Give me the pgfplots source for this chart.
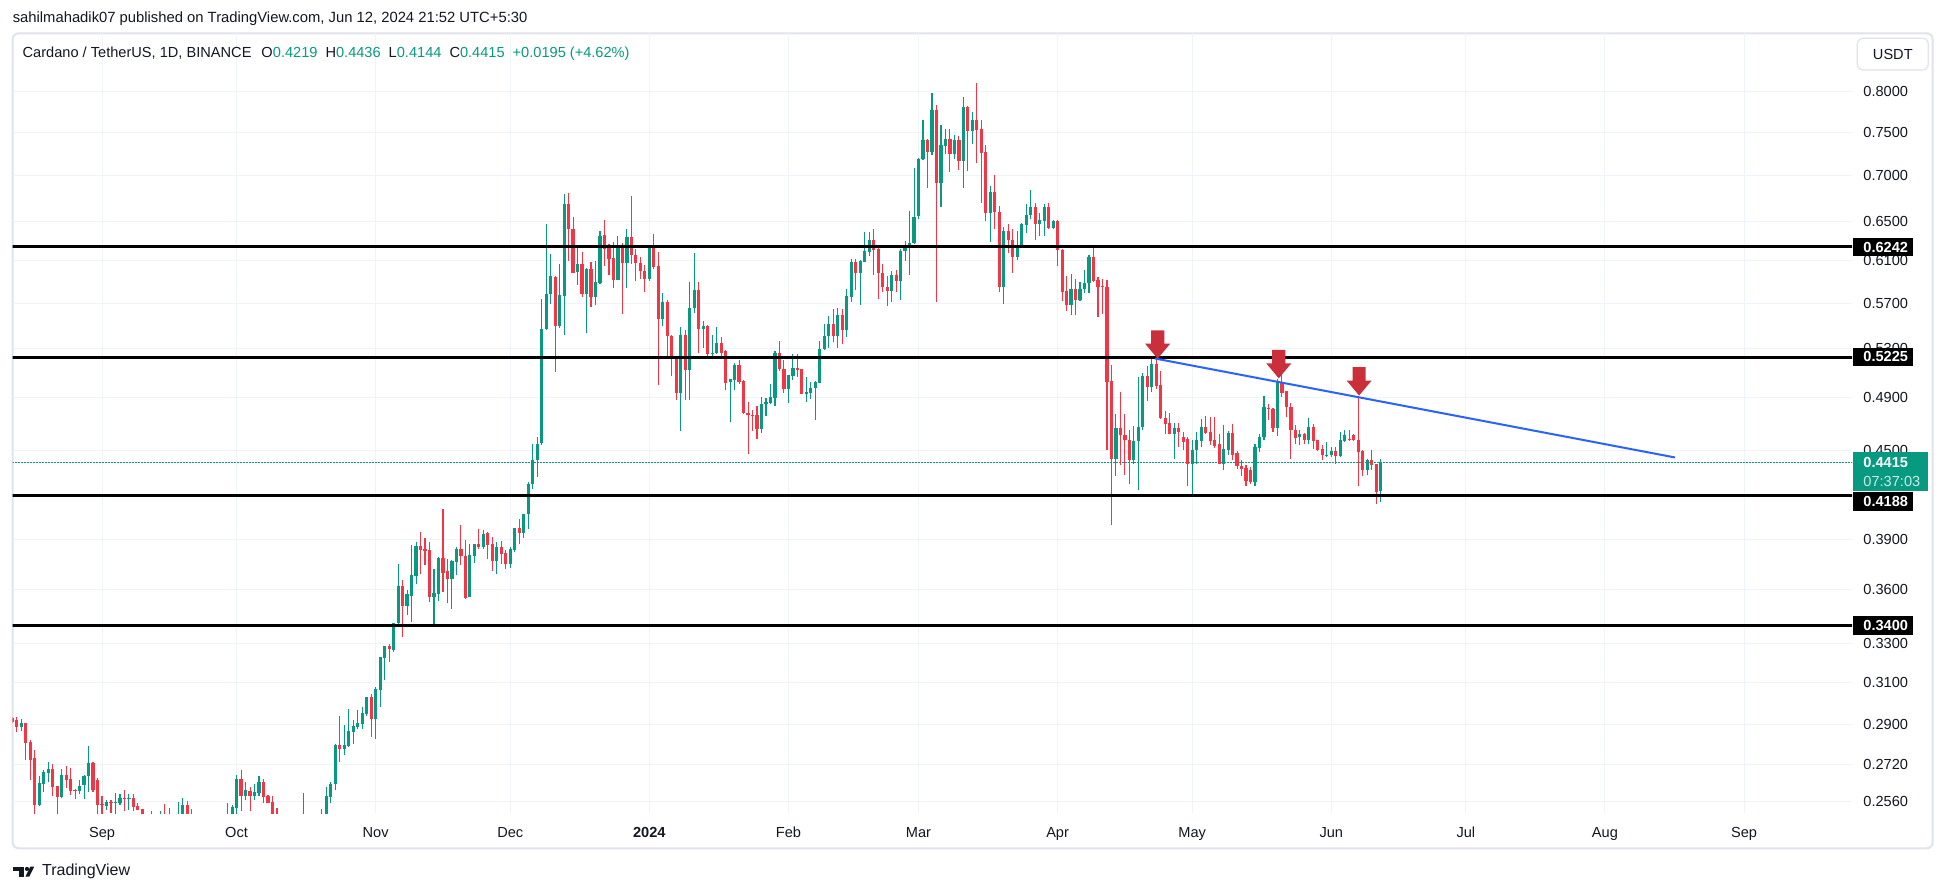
\documentclass[border=0pt]{standalone}
\usepackage{fontspec}
\setmainfont{Liberation Sans}
\usepackage{pgfplots}
\pgfplotsset{compat=1.18}
\usepackage{pgfplotstable}

\definecolor{upc}{HTML}{089981}
\definecolor{dnc}{HTML}{F23645}
\definecolor{txt}{HTML}{131722}
\definecolor{gridc}{HTML}{F0F3FA}
\definecolor{framec}{HTML}{E0E3EB}
\definecolor{trend}{HTML}{2962FF}
\definecolor{arrowc}{RGB}{201,48,60}

% ADA/USDT daily candles, d = days from 2024-01-01
\pgfplotstableread{
d o h l c
-142 .2931 .2935 .2908 .2910
-141 .2918 .2933 .2864 .2887
-140 .2887 .2923 .2869 .2904
-139 .2904 .2907 .2737 .2814
-138 .2817 .2826 .2650 .2737
-137 .2746 .2781 .2490 .2547
-136 .2547 .2671 .2543 .2637
-135 .2636 .2693 .2601 .2684
-134 .2681 .2729 .2643 .2699
-133 .2699 .2719 .2583 .2622
-132 .2625 .2628 .2510 .2580
-131 .2580 .2697 .2578 .2675
-130 .2675 .2711 .2617 .2650
-129 .2654 .2705 .2588 .2605
-128 .2611 .2614 .2572 .2605
-127 .2605 .2650 .2592 .2628
-126 .2629 .2675 .2571 .2671
-125 .2667 .2799 .2601 .2725
-124 .2724 .2728 .2601 .2608
-123 .2650 .2662 .2505 .2547
-122 .2551 .2583 .2505 .2547
-121 .2543 .2569 .2526 .2559
-120 .2560 .2567 .2515 .2554
-119 .2557 .2596 .2510 .2559
-118 .2557 .2592 .2547 .2576
-117 .2576 .2608 .2523 .2574
-116 .2574 .2592 .2526 .2576
-115 .2576 .2591 .2523 .2540
-114 .2543 .2555 .2526 .2529
-113 .2530 .2530 .2470 .2490
-112 .2490 .2505 .2460 .2475
-111 .2475 .2522 .2450 .2490
-110 .2490 .2510 .2460 .2485
-109 .2485 .2522 .2470 .2495
-108 .2505 .2551 .2460 .2480
-107 .2490 .2536 .2450 .2470
-106 .2470 .2495 .2445 .2475
-105 .2470 .2558 .2450 .2495
-104 .2490 .2576 .2470 .2547
-103 .2547 .2564 .2460 .2480
-102 .2490 .2533 .2440 .2470
-101 .2470 .2500 .2430 .2450
-100 .2450 .2490 .2420 .2460
-99 .2460 .2500 .2430 .2470
-98 .2470 .2505 .2440 .2480
-97 .2480 .2508 .2450 .2465
-96 .2465 .2500 .2440 .2470
-95 .2470 .2505 .2445 .2480
-94 .2480 .2554 .2460 .2500
-93 .2500 .2547 .2480 .2538
-92 .2535 .2675 .2505 .2654
-91 .2654 .2693 .2523 .2583
-90 .2583 .2642 .2567 .2608
-89 .2605 .2622 .2523 .2583
-88 .2583 .2636 .2567 .2600
-87 .2597 .2667 .2583 .2642
-86 .2642 .2655 .2554 .2580
-85 .2583 .2587 .2554 .2556
-84 .2559 .2583 .2480 .2500
-83 .2500 .2534 .2450 .2470
-82 .2470 .2500 .2440 .2460
-81 .2460 .2490 .2430 .2450
-80 .2450 .2480 .2420 .2440
-79 .2440 .2480 .2415 .2455
-78 .2455 .2490 .2430 .2460
-77 .2460 .2595 .2440 .2480
-76 .2480 .2512 .2450 .2470
-75 .2470 .2500 .2440 .2460
-74 .2460 .2495 .2440 .2480
-73 .2480 .2530 .2460 .2500
-72 .2500 .2622 .2480 .2583
-71 .2580 .2642 .2554 .2633
-70 .2636 .2808 .2608 .2804
-69 .2804 .2937 .2729 .2787
-68 .2787 .2895 .2759 .2804
-67 .2799 .2973 .2796 .2867
-66 .2864 .2921 .2811 .2890
-65 .2887 .2968 .2879 .2906
-64 .2899 .2981 .2879 .2952
-63 .2949 .3030 .2940 .3028
-62 .3028 .3046 .2841 .2926
-61 .2923 .3078 .2833 .3067
-60 .3062 .3230 .2981 .3229
-59 .3224 .3290 .3112 .3287
-58 .3287 .3299 .3204 .3271
-57 .3269 .3414 .3256 .3414
-56 .3411 .3753 .3408 .3619
-55 .3619 .3654 .3336 .3504
-54 .3504 .3595 .3454 .3572
-53 .3562 .3865 .3417 .3683
-52 .3677 .3884 .3630 .3859
-51 .3859 .3946 .3689 .3834
-50 .3840 .3908 .3743 .3828
-49 .3834 .3884 .3528 .3560
-48 .3560 .3719 .3398 .3578
-47 .3572 .3793 .3534 .3787
-46 .3787 .4094 .3585 .3697
-45 .3708 .3779 .3522 .3661
-44 .3661 .3773 .3491 .3769
-43 .3765 .3855 .3683 .3840
-42 .3840 .3991 .3743 .3797
-41 .3797 .3896 .3548 .3553
-40 .3557 .3871 .3557 .3803
-39 .3799 .3871 .3757 .3871
-38 .3871 .3970 .3844 .3855
-37 .3855 .3959 .3844 .3938
-36 .3942 .3948 .3779 .3865
-35 .3871 .3915 .3709 .3769
-34 .3769 .3886 .3689 .3855
-33 .3855 .3890 .3753 .3809
-32 .3817 .3834 .3719 .3749
-31 .3749 .3855 .3729 .3840
-30 .3834 .3974 .3824 .3974
-29 .3974 .4029 .3875 .3942
-28 .3942 .4066 .3911 .4062
-27 .4062 .4275 .3966 .4266
-26 .4266 .4547 .4232 .4429
-25 .4429 .4595 .4312 .4547
-24 .4552 .5737 .4537 .5466
-23 .5466 .6476 .5460 .5788
-22 .5788 .6165 .5696 .5951
-21 .5945 .5951 .5101 .5495
-20 .5495 .6074 .5480 .5779
-19 .5770 .6790 .5413 .6681
-18 .6681 .6804 .6099 .6417
-17 .6420 .6546 .5980 .5987
-16 .5993 .6255 .5866 .6074
-15 .6074 .6188 .5757 .5788
-14 .5788 .6036 .5430 .6019
-13 .6019 .6090 .5666 .5757
-12 .5757 .6099 .5681 .5894
-11 .5888 .6397 .5882 .6346
-10 .6356 .6511 .6048 .6214
-9 .6225 .6265 .5961 .6116
-8 .6128 .6288 .5843 .5913
-7 .5913 .6346 .5913 .6250
-6 .6240 .6278 .5599 .6080
-5 .6080 .6424 .5843 .6339
-4 .6339 .6767 .6067 .6155
-3 .6155 .6218 .5906 .6080
-2 .6080 .6134 .5929 .6003
-1 .6003 .6057 .5803 .5929
0 .5929 .6246 .5906 .6240
1 .6246 .6366 .6019 .6042
2 .6048 .6188 .4996 .5554
3 .5554 .5796 .5495 .5711
4 .5711 .5731 .5230 .5407
5 .5407 .5416 .5068 .5223
6 .5223 .5229 .4877 .4935
7 .4935 .5486 .4643 .5416
8 .5416 .5460 .4877 .5118
9 .5118 .5897 .4877 .5660
10 .5657 .6178 .5611 .5819
11 .5819 .5897 .5259 .5468
12 .5468 .5536 .5302 .5492
13 .5492 .5501 .5230 .5251
14 .5251 .5413 .5220 .5265
15 .5259 .5486 .5250 .5349
16 .5349 .5398 .5215 .5259
17 .5277 .5285 .4956 .5014
18 .5022 .5050 .4710 .5047
19 .5036 .5178 .4962 .5159
20 .5159 .5200 .5010 .5022
21 .5028 .5036 .4774 .4779
22 .4782 .4864 .4477 .4761
23 .4766 .4799 .4643 .4755
24 .4761 .4836 .4586 .4660
25 .4660 .4903 .4631 .4846
26 .4846 .4898 .4755 .4864
27 .4860 .5004 .4846 .4903
28 .4898 .5279 .4832 .5264
29 .5264 .5362 .5113 .5128
30 .5131 .5200 .4935 .4969
31 .4969 .5083 .4856 .5077
32 .5071 .5251 .5036 .5139
33 .5139 .5253 .5064 .5118
34 .5126 .5131 .4925 .4930
35 .4925 .5063 .4867 .4943
36 .4937 .5022 .4891 .4977
37 .4977 .5028 .4728 .5022
38 .5014 .5362 .5014 .5300
39 .5300 .5509 .5285 .5405
40 .5405 .5581 .5305 .5509
41 .5509 .5650 .5359 .5405
42 .5407 .5656 .5305 .5590
43 .5590 .5650 .5335 .5461
44 .5461 .5834 .5398 .5762
45 .5757 .6123 .5711 .6090
46 .6090 .6116 .5819 .5984
47 .5984 .6106 .5681 .6099
48 .6090 .6390 .6090 .6198
49 .6188 .6390 .6146 .6305
50 .6305 .6417 .5961 .6212
51 .6214 .6240 .5741 .5984
52 .5987 .6074 .5803 .5849
53 .5852 .5951 .5676 .5813
54 .5813 .6003 .5711 .5967
55 .5967 .6016 .5803 .5906
56 .5906 .6222 .5726 .6195
57 .6195 .6295 .6096 .6240
58 .6230 .6609 .5961 .6282
59 .6278 .7083 .6272 .6546
60 .6557 .7199 .6526 .7188
61 .7180 .7645 .7169 .7410
62 .7410 .7415 .6857 .7266
63 .7266 .7987 .7236 .7772
64 .7772 .7831 .5710 .6913
65 .6913 .7584 .6651 .7344
66 .7340 .7543 .7248 .7415
67 .7415 .7543 .7036 .7238
68 .7238 .7464 .7185 .7410
69 .7410 .7455 .7055 .7161
70 .7161 .7937 .6857 .7816
71 .7816 .7826 .7047 .7515
72 .7515 .7753 .7362 .7651
73 .7645 .8116 .7138 .7531
74 .7539 .7651 .6694 .7256
75 .7266 .7344 .6503 .6585
76 .6585 .6875 .6288 .6810
77 .6810 .7000 .6425 .6599
78 .6599 .6659 .5803 .5854
79 .5854 .6438 .5696 .6397
80 .6397 .6476 .6178 .6312
81 .6312 .6424 .5987 .6140
82 .6140 .6397 .6106 .6240
83 .6230 .6483 .6230 .6469
84 .6459 .6681 .6380 .6563
85 .6565 .6832 .6526 .6651
86 .6651 .6694 .6305 .6469
87 .6469 .6585 .6349 .6511
88 .6500 .6688 .6346 .6651
89 .6651 .6694 .6425 .6435
90 .6431 .6518 .6425 .6500
91 .6500 .6518 .6051 .6205
92 .6212 .6222 .5720 .5803
93 .5813 .5954 .5629 .5681
94 .5681 .5970 .5590 .5828
95 .5828 .5926 .5590 .5726
96 .5726 .5897 .5720 .5834
97 .5828 .6009 .5794 .5891
98 .5888 .6162 .5794 .6134
99 .6134 .6246 .5900 .5906
100 .5913 .5945 .5575 .5849
101 .5852 .5926 .5606 .5850
102 .5852 .5920 .4501 .5022
103 .5028 .5159 .3991 .4441
104 .4439 .4774 .4317 .4667
105 .4667 .4943 .4394 .4611
106 .4611 .4774 .4324 .4574
107 .4579 .4648 .4267 .4434
108 .4434 .4679 .4405 .4569
109 .4569 .5063 .4221 .4676
110 .4672 .5093 .4648 .5071
111 .5071 .5150 .4872 .4982
112 .4982 .5230 .4943 .5167
113 .5167 .5215 .4969 .4990
114 .4996 .5112 .4735 .4740
115 .4743 .4794 .4624 .4692
116 .4700 .4779 .4619 .4624
117 .4619 .4700 .4437 .4667
118 .4667 .4700 .4524 .4634
119 .4600 .4634 .4501 .4563
120 .4587 .4600 .4248 .4406
121 .4406 .4574 .4183 .4501
122 .4501 .4634 .4406 .4574
123 .4570 .4735 .4524 .4672
124 .4672 .4758 .4624 .4628
125 .4634 .4745 .4541 .4569
126 .4574 .4752 .4520 .4531
127 .4550 .4619 .4400 .4406
128 .4406 .4686 .4359 .4511
129 .4506 .4641 .4468 .4631
130 .4631 .4692 .4429 .4468
131 .4482 .4496 .4371 .4387
132 .4387 .4434 .4317 .4366
133 .4374 .4394 .4248 .4282
134 .4363 .4379 .4264 .4278
135 .4278 .4547 .4251 .4524
136 .4517 .4619 .4487 .4595
137 .4595 .4908 .4574 .4825
138 .4820 .4851 .4723 .4812
139 .4812 .4820 .4634 .4663
140 .4663 .5050 .4605 .5030
141 .5022 .5091 .4903 .4935
142 .4948 .4951 .4746 .4825
143 .4827 .4856 .4441 .4648
144 .4652 .4686 .4550 .4593
145 .4595 .4648 .4537 .4619
146 .4619 .4625 .4550 .4580
147 .4574 .4743 .4550 .4676
148 .4676 .4692 .4513 .4571
149 .4574 .4580 .4494 .4501
150 .4508 .4537 .4429 .4465
151 .4460 .4562 .4451 .4465
152 .4465 .4524 .4451 .4494
153 .4496 .4524 .4406 .4460
154 .4460 .4634 .4455 .4574
155 .4569 .4652 .4565 .4611
156 .4577 .4652 .4569 .4574
157 .4611 .4619 .4570 .4574
158 .4577 .4908 .4248 .4488
159 .4496 .4500 .4317 .4359
160 .4364 .4441 .4324 .4434
161 .4434 .4506 .4359 .4399
162 .4401 .4406 .4128 .4210
163 .4219 .4436 .4144 .4415
}\candles

% red down arrow with its tip at (#1,#2)
\newcommand{\downarrowat}[2]{%
  \fill[arrowc] (axis cs:#1,#2)
    -- ++(-6.25pt,7.5pt) -- ++(2.95pt,0pt) -- ++(0pt,6.7pt)
    -- ++(6.6pt,0pt) -- ++(0pt,-6.7pt) -- ++(2.95pt,0pt) -- cycle;}

% black price label on the scale, centre y in px
\newcommand{\pricebox}[2]{%
  \fill[black] (1853,#1-9.2) rectangle (1913,#1+9.2);
  \node[anchor=west, inner sep=0pt, text=white, font=\fontsize{7.3}{8}\selectfont\bfseries] at (1863,#1) {#2};}

\pgfplotsset{
  candle/.style 2 args={draw=none, mark=none, forget plot,
    error bars/.cd, y dir=plus, y explicit, error mark=none,
    error bar style={draw=#1, line width=#2}},
}

\begin{document}
\begin{tikzpicture}[x=0.5pt,y=-0.5pt]
\useasboundingbox (0,0) rectangle (1946,893);
\fill[white] (0,0) rectangle (1946,893);

% header
\node[anchor=west, inner sep=0pt, text=txt, font=\fontsize{7.4}{9}\selectfont] at (12.4,19) {sahilmahadik07 published on TradingView.com, Jun 12, 2024 21:52 UTC+5:30};

% chart frame
\draw[framec, line width=1pt, rounded corners=3pt] (12.7,33.3) rectangle (1932.7,848.3);

\begin{axis}[
    at={(6.25pt,-406.5pt)}, anchor=south west,
    width=919.75pt, height=389.85pt, scale only axis,
    xmin=-141.95, xmax=268.07,
    ymode=log, ymin=0.25149, ymax=0.87901,
    axis line style={draw=none},
    major tick length=0pt,
    xtick={-122,-92,-61,-31,0,31,60,91,121,152,182,213,244},
    xticklabels={Sep,Oct,Nov,Dec,\textbf{2024},Feb,Mar,Apr,May,Jun,Jul,Aug,Sep},
    ytick={0.256,0.272,0.29,0.31,0.33,0.36,0.39,0.45,0.49,0.53,0.57,0.61,0.65,0.70,0.75,0.80},
    yticklabels={0.2560,0.2720,0.2900,0.3100,0.3300,0.3600,0.3900,0.4500,0.4900,0.5300,0.5700,0.6100,0.6500,0.7000,0.7500,0.8000},
    yticklabel pos=right,
    grid=major,
    major grid style={gridc, line width=0.5pt},
    ticklabel style={font=\fontsize{7.3}{8}\selectfont, text=txt, inner sep=0pt},
    yticklabel style={anchor=west, xshift=5.5pt},
    xticklabel style={anchor=base, yshift=-12pt},
]
% last price line
\addplot[upc, line width=0.6pt, dash pattern=on 0.6pt off 0.9pt, forget plot]
  coordinates {(-150,0.4415) (280,0.4415)};

% wicks
\addplot[candle={upc}{0.55pt}]
  table[x expr={\thisrow{c}>=\thisrow{o} ? \thisrow{d} : nan}, y=l,
        y error plus expr={\thisrow{h}-\thisrow{l}}] {\candles};
\addplot[candle={dnc}{0.55pt}]
  table[x expr={\thisrow{c}<\thisrow{o} ? \thisrow{d} : nan}, y=l,
        y error plus expr={\thisrow{h}-\thisrow{l}}] {\candles};
% bodies
\addplot[candle={upc}{1.6pt}]
  table[x expr={\thisrow{c}>=\thisrow{o} ? \thisrow{d} : nan}, y=o,
        y error plus expr={max(\thisrow{c}-\thisrow{o},0.0016*\thisrow{o})}] {\candles};
\addplot[candle={dnc}{1.6pt}]
  table[x expr={\thisrow{c}<\thisrow{o} ? \thisrow{d} : nan}, y=c,
        y error plus expr={max(\thisrow{o}-\thisrow{c},0.0016*\thisrow{c})}] {\candles};

% support / resistance levels
\addplot[black, line width=1.5pt, forget plot] coordinates {(-150,0.6242) (280,0.6242)};
\addplot[black, line width=1.5pt, forget plot] coordinates {(-150,0.5225) (280,0.5225)};
\addplot[black, line width=1.5pt, forget plot] coordinates {(-150,0.4188) (280,0.4188)};
\addplot[black, line width=1.5pt, forget plot] coordinates {(-150,0.3400) (280,0.3400)};

% descending trendline
\addplot[trend, line width=1pt, forget plot] coordinates {(112.7,0.5216) (228.6,0.4450)};

\downarrowat{113.3}{0.5214}
\downarrowat{140.3}{0.5052}
\downarrowat{158.2}{0.4915}
\end{axis}

% legend line
\node[anchor=west, inner sep=0pt, text=txt, font=\fontsize{7.3}{9}\selectfont] at (22.3,54)
  {Cardano / TetherUS, 1D, BINANCE\hspace{5pt}O\textcolor{upc}{0.4219}\hspace{4pt}H\textcolor{upc}{0.4436}\hspace{4pt}L\textcolor{upc}{0.4144}\hspace{4pt}C\textcolor{upc}{0.4415}\hspace{4pt}\textcolor{upc}{+0.0195 (+4.62\%)}};

% currency box
\draw[framec, fill=white, line width=0.6pt, rounded corners=3pt] (1857.3,38.3) rectangle (1928.3,70);
\node[text=txt, inner sep=0pt, font=\fontsize{7.3}{8}\selectfont] at (1892.8,54.2) {USDT};

% price scale labels
\pricebox{247}{0.6242}
\pricebox{356.7}{0.5225}
\pricebox{501.3}{0.4188}
\pricebox{625.5}{0.3400}
\fill[upc] (1853,452.3) rectangle (1928,490.7);
\node[anchor=west, inner sep=0pt, text=white, font=\fontsize{7.3}{8}\selectfont\bfseries] at (1863,462.3) {0.4415};
\node[anchor=west, inner sep=0pt, text=white!80!upc, font=\fontsize{7.3}{8}\selectfont] at (1863,481) {07:37:03};

% TradingView logo
\fill[txt] (13.3,866.7) rectangle (24,870.7);
\fill[txt] (18.5,866.7) rectangle (24,876.7);
\fill[txt] (27,868.9) circle (2.1);
\fill[txt] (25.3,876.7) -- (30.3,866.7) -- (34.2,866.7) -- (29.2,876.7) -- cycle;
\node[anchor=west, inner sep=0pt, text=txt, font=\fontsize{8}{9}\selectfont] at (41.7,871.7) {TradingView};
\end{tikzpicture}
\end{document}
